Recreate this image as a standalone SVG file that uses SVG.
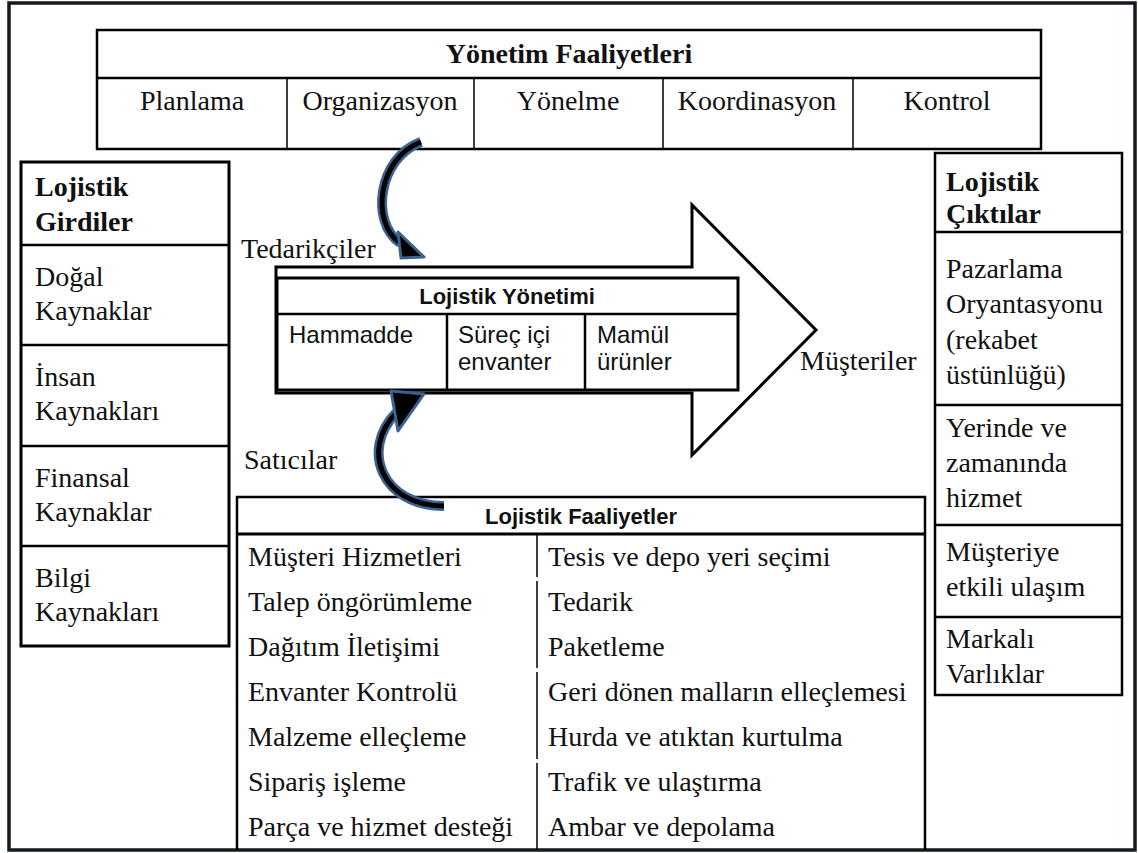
<svg xmlns="http://www.w3.org/2000/svg" width="1138" height="853" viewBox="0 0 1138 853">
  <defs>
    <style>
      .serif { font-family: "Liberation Serif", "Times New Roman", serif; font-size: 28px; fill: #111; }
      .serif-b { font-family: "Liberation Serif", "Times New Roman", serif; font-size: 28px; font-weight: bold; fill: #111; }
      .sans { font-family: "Liberation Sans", Arial, sans-serif; font-size: 24px; fill: #111; }
      .sans-b { font-family: "Liberation Sans", Arial, sans-serif; font-size: 22px; font-weight: bold; fill: #111; }
      .mid { text-anchor: middle; }
      .box { fill: #fff; stroke: #000; stroke-width: 2.5; }
      .thick { fill: #fff; stroke: #000; stroke-width: 3; }
      .rule { stroke: #000; stroke-width: 2.5; fill: none; }
      .thin { stroke: #000; stroke-width: 1.5; fill: none; }
      .band-edge { fill: none; stroke: #3b6292; stroke-width: 10; }
      .band-core { fill: none; stroke: #000; stroke-width: 5; }
      .head { fill: #000; stroke: #3b6292; stroke-width: 3; stroke-linejoin: round; }
    </style>
  </defs>

  <rect width="1138" height="853" fill="#fff"/>
  <!-- outer frame -->
  <rect x="9" y="3" width="1126" height="847" fill="none" stroke="#151a20" stroke-width="3.5"/>

  <!-- management activities -->
  <g id="yonetim">
    <rect class="box" x="97" y="30" width="944" height="119"/>
    <line class="rule" x1="97" y1="78" x2="1041" y2="78"/>
    <line class="thin" x1="287" y1="78" x2="287" y2="149"/>
    <line class="thin" x1="474" y1="78" x2="474" y2="149"/>
    <line class="thin" x1="663" y1="78" x2="663" y2="149"/>
    <line class="thin" x1="853" y1="78" x2="853" y2="149"/>
    <text class="serif-b mid" x="569" y="63">Yönetim Faaliyetleri</text>
    <text class="serif mid" x="192" y="110">Planlama</text>
    <text class="serif mid" x="380" y="110">Organizasyon</text>
    <text class="serif mid" x="568" y="110">Yönelme</text>
    <text class="serif mid" x="757" y="110">Koordinasyon</text>
    <text class="serif mid" x="947" y="110">Kontrol</text>
  </g>

  <!-- logistics inputs -->
  <g id="girdiler">
    <rect class="thick" x="21" y="162" width="208" height="484"/>
    <line class="rule" x1="21" y1="245" x2="229" y2="245"/>
    <line class="rule" x1="21" y1="345" x2="229" y2="345"/>
    <line class="rule" x1="21" y1="446" x2="229" y2="446"/>
    <line class="rule" x1="21" y1="546" x2="229" y2="546"/>
    <text class="serif-b" x="35" y="196">Lojistik</text>
    <text class="serif-b" x="35" y="231">Girdiler</text>
    <text class="serif" x="35" y="286">Doğal</text>
    <text class="serif" x="35" y="320">Kaynaklar</text>
    <text class="serif" x="35" y="386">İnsan</text>
    <text class="serif" x="35" y="420">Kaynakları</text>
    <text class="serif" x="35" y="487">Finansal</text>
    <text class="serif" x="35" y="521">Kaynaklar</text>
    <text class="serif" x="35" y="587">Bilgi</text>
    <text class="serif" x="35" y="621">Kaynakları</text>
  </g>

  <!-- logistics outputs -->
  <g id="ciktilar">
    <rect class="box" x="935" y="153" width="187" height="542"/>
    <line class="rule" x1="935" y1="232" x2="1122" y2="232"/>
    <line class="rule" x1="935" y1="405" x2="1122" y2="405"/>
    <line class="rule" x1="935" y1="525" x2="1122" y2="525"/>
    <line class="rule" x1="935" y1="617" x2="1122" y2="617"/>
    <text class="serif-b" x="946" y="191">Lojistik</text>
    <text class="serif-b" x="946" y="223">Çıktılar</text>
    <text class="serif" x="946" y="278">Pazarlama</text>
    <text class="serif" x="946" y="313">Oryantasyonu</text>
    <text class="serif" x="946" y="349">(rekabet</text>
    <text class="serif" x="946" y="384">üstünlüğü)</text>
    <text class="serif" x="946" y="437">Yerinde ve</text>
    <text class="serif" x="946" y="472">zamanında</text>
    <text class="serif" x="946" y="507">hizmet</text>
    <text class="serif" x="946" y="561">Müşteriye</text>
    <text class="serif" x="946" y="596">etkili ulaşım</text>
    <text class="serif" x="946" y="648">Markalı</text>
    <text class="serif" x="946" y="683">Varlıklar</text>
  </g>

  <!-- big flow arrow -->
  <g id="akis">
    <polygon points="276,267 692,267 692,205 816,330 692,455 692,393 276,393" fill="#fff" stroke="#000" stroke-width="3"/>
    <text class="serif" x="241" y="258">Tedarikçiler</text>
    <text class="serif" x="244" y="469">Satıcılar</text>
    <text class="serif" x="800" y="370">Müşteriler</text>
  </g>

  <!-- logistics management -->
  <g id="yonetimi">
    <rect class="thick" x="277" y="278" width="461" height="112"/>
    <line class="rule" x1="277" y1="314" x2="738" y2="314"/>
    <line class="rule" x1="447" y1="314" x2="447" y2="390"/>
    <line class="rule" x1="585" y1="314" x2="585" y2="390"/>
    <text class="sans-b mid" x="507" y="304">Lojistik Yönetimi</text>
    <text class="sans" x="289" y="343">Hammadde</text>
    <text class="sans" x="458" y="343">Süreç içi</text>
    <text class="sans" x="458" y="370">envanter</text>
    <text class="sans" x="597" y="343">Mamül</text>
    <text class="sans" x="597" y="370">ürünler</text>
  </g>

  <!-- logistics activities table -->
  <g id="faaliyetler">
    <path class="rule" d="M237,850 V497 H925 V850"/>
    <line stroke="#000" stroke-width="3" x1="237" y1="534" x2="925" y2="534"/>
    <path class="thin" d="M537,534 V577 M537,581 V668 M537,672 V759 M537,763 V850"/>
    <text class="sans-b mid" x="581" y="524">Lojistik Faaliyetler</text>
    <text class="serif" x="248" y="566">Müşteri Hizmetleri</text>
    <text class="serif" x="248" y="611">Talep öngörümleme</text>
    <text class="serif" x="248" y="656">Dağıtım İletişimi</text>
    <text class="serif" x="248" y="701">Envanter Kontrolü</text>
    <text class="serif" x="248" y="746">Malzeme elleçleme</text>
    <text class="serif" x="248" y="791">Sipariş işleme</text>
    <text class="serif" x="248" y="836">Parça ve hizmet desteği</text>
    <text class="serif" x="548" y="566">Tesis ve depo yeri seçimi</text>
    <text class="serif" x="548" y="611">Tedarik</text>
    <text class="serif" x="548" y="656">Paketleme</text>
    <text class="serif" x="548" y="701">Geri dönen malların elleçlemesi</text>
    <text class="serif" x="548" y="746">Hurda ve atıktan kurtulma</text>
    <text class="serif" x="548" y="791">Trafik ve ulaştırma</text>
    <text class="serif" x="548" y="836">Ambar ve depolama</text>
  </g>

  <!-- curved connectors -->
  <g id="connectors">
    <g id="yonetim-to-yonetimi">
      <path class="band-edge" d="M421,142 C378,158 370,222 400,243"/>
      <path class="band-core" d="M421,142 C378,158 370,222 400,243"/>
      <polygon class="head" points="398,232 424,257 401,258"/>
    </g>
    <g id="faaliyetler-to-yonetimi">
      <path class="band-edge" d="M444,506 C382,506 360,450 396,413"/>
      <path class="band-core" d="M444,506 C382,506 360,450 396,413"/>
      <polygon class="head" points="391,391 424,394 398,431"/>
    </g>
  </g>
</svg>
